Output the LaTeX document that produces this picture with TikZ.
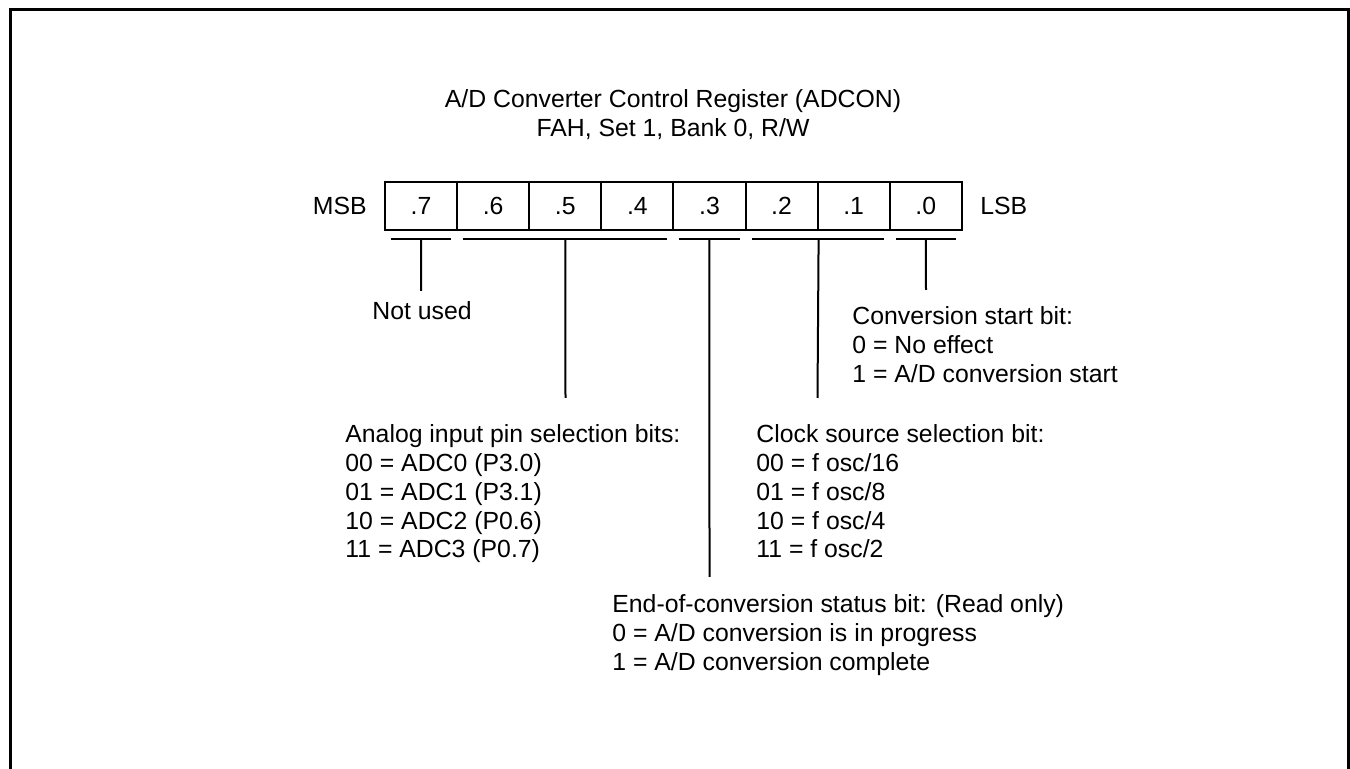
\documentclass[tikz,border=0pt]{standalone}
\usepackage{fontspec}
\setmainfont{Liberation Sans}
\newcommand{\regfont}{\fontsize{12.4}{14.35}\selectfont}
\begin{document}
\begin{tikzpicture}[x=0.5pt,y=-0.5pt,
  cell/.style={draw, line width=1pt, minimum width=36.05pt, minimum height=24pt, inner sep=0pt, font=\regfont},
  lbl/.style={inner sep=0pt, font=\regfont},
  desc/.style={inner sep=0pt, font=\regfont, align=left, anchor=base west},
  brk/.style={line width=1pt}]
\useasboundingbox (0,0) rectangle (1350,769);
\clip (0,0) rectangle (1350,769);
\draw[line width=1.5pt] (10.5,800) -- (10.5,9.5) -- (1348.5,9.5) -- (1348.5,800);

\node[lbl, anchor=base] (title1) at (673,108) {A/D Converter Control Register (ADCON)};
\node[lbl, anchor=base] (title2) at (673,137) {FAH, Set 1, Bank 0, R/W};

\foreach \i/\t in {0/.7,1/.6,2/.5,3/.4,4/.3,5/.2,6/.1,7/.0}
  \node[cell] (c\i) at ({421.05+72.1*\i},206) {\t};

\node[lbl, anchor=base east] (msb) at (367,215) {MSB};
\node[lbl, anchor=base west] (lsb) at (980,215) {LSB};

% brackets
\coordinate (b7a) at (391,239); \coordinate (b7b) at (451,239);
\coordinate (b6a) at (463,239); \coordinate (b6b) at (667,239);
\coordinate (b3a) at (679,239); \coordinate (b3b) at (740,239);
\coordinate (b2a) at (752,239); \coordinate (b2b) at (884,239);
\coordinate (b0a) at (896,239); \coordinate (b0b) at (956,239);
\draw[brk] (b7a) -- (b7b);
\draw[brk] (b6a) -- (b6b);
\draw[brk] (b3a) -- (b3b);
\draw[brk] (b2a) -- (b2b);
\draw[brk] (b0a) -- (b0b);

% descriptions (anchor = baseline of last line)
\node[desc] (notused) at (372,320) {Not used};
\node[desc] (start) at (852,382.4) {Conversion start bit:\\0 = No effect\\1 = A/D conversion start};
\node[desc] (analog) at (345,557.8) {Analog input pin selection bits:\\00 = ADC0 (P3.0)\\01 = ADC1 (P3.1)\\10 = ADC2 (P0.6)\\11 = ADC3 (P0.7)};
\node[desc] (clock) at (756,557.8) {Clock source selection bit:\\00 = f osc/16\\01 = f osc/8\\10 = f osc/4\\11 = f osc/2};
\node[desc] (eoc) at (612,670.4) {End-of-conversion status bit: (Read only)\\0 = A/D conversion is in progress\\1 = A/D conversion complete};

% stems
\coordinate (s7) at (421,291);
\coordinate (s6) at (565.5,398);
\coordinate (s3) at (709.5,577);
\coordinate (s2) at (817.5,398);
\coordinate (s0) at (926,290);
\draw[brk] (c0.center |- b7a) -- (s7);
\draw[brk] (c2.center |- b6a) -- (s6);
\draw[brk] (c4.center |- b3a) -- (s3);
\draw[brk] (c5.east |- b2a) -- (s2);
\draw[brk] (c7.center |- b0a) -- (s0);
\end{tikzpicture}
\end{document}
